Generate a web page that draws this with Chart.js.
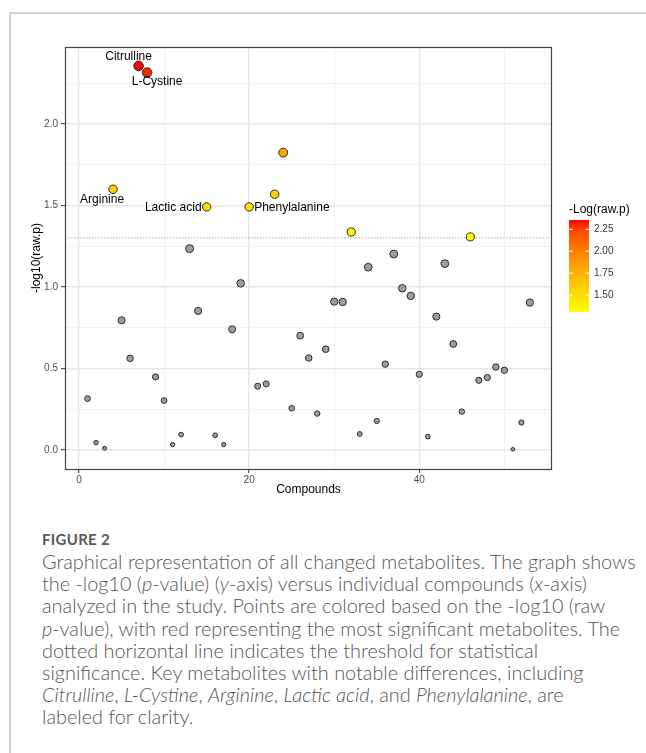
<!DOCTYPE html>
<html>
<head>
<meta charset="utf-8">
<script src="https://cdn.jsdelivr.net/npm/chart.js@4/dist/chart.umd.min.js"></script>
<style>
  html, body { margin: 0; padding: 0; background: #fff; }
  body { width: 646px; height: 753px; position: relative; overflow: hidden; }
  .frame { position: absolute; left: 9px; top: 12px; width: 700px; height: 800px;
           border-top: 2px solid #d2d2d2; border-left: 2px solid #d2d2d2; }
  .plot { position: absolute; left: 0; top: 0; width: 646px; height: 520px; }
  .cap { position: absolute; left: 42px; top: 528px; font-family: Lato, "Open Sans", sans-serif;
         color: #555; font-size: 20px; font-weight: 300; line-height: 22.2px; white-space: nowrap; }
  .cap .fig { font-size: 15px; font-weight: 700; letter-spacing: 0.3px; color: #5a5a5a; line-height: 22px; }
  .cap span.ln { display: inline-block; }
</style>
</head>
<body>
<div class="frame"></div>
<div class="plot"><canvas id="chart"></canvas></div>
<div class="cap" id="cap">
  <div class="fig">FIGURE 2</div>
  <div><span class="ln" id="firstLine">Graphical representation of all changed metabolites. The graph shows</span></div>
  <div>the -log10 (<i>p</i>-value) (<i>y</i>-axis) versus individual compounds (<i>x</i>-axis)</div>
  <div>analyzed in the study. Points are colored based on the -log10 (raw</div>
  <div><i>p</i>-value), with red representing the most significant metabolites. The</div>
  <div>dotted horizontal line indicates the threshold for statistical</div>
  <div>significance. Key metabolites with notable differences, including</div>
  <div><i>Citrulline</i>, <i>L-Cystine</i>, <i>Arginine</i>, <i>Lactic acid</i>, and <i>Phenylalanine</i>, are</div>
  <div>labeled for clarity.</div>
</div>
<script>
// compound index on x, -log10(raw p) on y
const compounds = [1, 2, 3, 4, 5, 6, 7, 8, 9, 10, 11, 12, 13, 14, 15, 16, 17, 18, 19, 20,
  21, 22, 23, 24, 25, 26, 27, 28, 29, 30, 31, 32, 33, 34, 35, 36, 37, 38, 39, 40,
  41, 42, 43, 44, 45, 46, 47, 48, 49, 50, 51, 52, 53];
const logP = [0.315, 0.045, 0.01, 1.599, 0.795, 0.562, 2.356, 2.315, 0.448, 0.303,
  0.033, 0.094, 1.235, 0.853, 1.491, 0.090, 0.033, 0.740, 1.022, 1.491,
  0.391, 0.405, 1.569, 1.824, 0.256, 0.701, 0.564, 0.223, 0.618, 0.910,
  0.908, 1.337, 0.098, 1.121, 0.178, 0.526, 1.202, 0.992, 0.945, 0.464,
  0.082, 0.818, 1.143, 0.650, 0.235, 1.307, 0.427, 0.444, 0.509, 0.489,
  0.004, 0.168, 0.904];
const threshold = 1.301;
const labelNames = ["Citrulline", "L-Cystine", "Arginine", "Lactic acid", "Phenylalanine"];
const labelCompounds = [7, 8, 4, 15, 20];
const xTickLabels = [0, 20, 40];
const yTickLabels = [0, 0.5, 1.0, 1.5, 2.0];
const legendTicks = [1.5, 1.75, 2.0, 2.25];

// label placement relative to its point (px)
const labelStyle = [
  { dx: -10, dy: -9, align: "center" },
  { dx: 10, dy: 9, align: "center" },
  { dx: -11, dy: 10, align: "center" },
  { dx: -5, dy: 1, align: "right" },
  { dx: 5, dy: 1, align: "left" },
];

// shrink/grow caption so the first line is as wide as in the figure
(function fitCaption() {
  const cap = document.getElementById("cap");
  const w = document.getElementById("firstLine").getBoundingClientRect().width;
  cap.style.fontSize = (20 * 594 / w).toFixed(2) + "px";
})();

const FONT = '"Liberation Sans", Arial, sans-serif';
const sig = logP.filter((v) => v >= threshold);
const cMin = Math.min(...sig), cMax = Math.max(...sig);
const vMin = Math.min(...logP), vMax = Math.max(...logP);

// yellow -> red in CIE Lab, like ggplot's gradient
const LAB_LOW = [97.14, -21.55, 94.48];
const LAB_HIGH = [53.24, 80.09, 67.2];
function labToRgb(L, a, b) {
  let y = (L + 16) / 116, x = a / 500 + y, z = y - b / 200;
  const f = (t) => (t ** 3 > 0.008856 ? t ** 3 : (t - 16 / 116) / 7.787);
  x = 0.95047 * f(x); y = 1.0 * f(y); z = 1.08883 * f(z);
  let r = x * 3.2406 + y * -1.5372 + z * -0.4986;
  let g = x * -0.9689 + y * 1.8758 + z * 0.0415;
  let bl = x * 0.0557 + y * -0.204 + z * 1.057;
  const gam = (c) => (c > 0.0031308 ? 1.055 * c ** (1 / 2.4) - 0.055 : 12.92 * c);
  const cl = (c) => Math.round(255 * Math.max(0, Math.min(1, gam(c))));
  return `rgb(${cl(r)}, ${cl(g)}, ${cl(bl)})`;
}
function sigColor(v) {
  const t = Math.max(0, Math.min(1, (v - cMin) / (cMax - cMin)));
  return labToRgb(...LAB_LOW.map((l, k) => l + (LAB_HIGH[k] - l) * t));
}
function pointColor(v) {
  return v >= threshold ? sigColor(v) : "#9e9e9e";
}
function pointRadius(v) {
  const t = (v - vMin) / (vMax - vMin);
  return 1.8 + 3.0 * Math.sqrt(t);
}

const isMajorX = (v) => xTickLabels.some((t) => Math.abs(t - v) < 1e-6);
const isMajorY = (v) => yTickLabels.some((t) => Math.abs(t - v) < 1e-6);

const pts = compounds.map((c, i) => ({ x: c, y: logP[i] }));
const xMin = -1.65, xMax = 55.6, yMin = -0.117, yMax = 2.472;

const framePlugin = {
  id: "frame",
  afterDatasetsDraw(chart) {
    const { ctx, chartArea: a, scales } = chart;
    ctx.save();
    // point labels
    ctx.font = `12px ${FONT}`;
    ctx.fillStyle = "#000";
    ctx.textBaseline = "middle";
    labelNames.forEach((name, i) => {
      const c = labelCompounds[i];
      const v = logP[compounds.indexOf(c)];
      const s = labelStyle[i];
      ctx.textAlign = s.align;
      ctx.fillText(name, scales.x.getPixelForValue(c) + s.dx, scales.y.getPixelForValue(v) + s.dy);
    });
    // panel border
    ctx.strokeStyle = "#444";
    ctx.lineWidth = 1.2;
    ctx.strokeRect(a.left + 0.5, a.top + 0.5, a.right - a.left - 1, a.bottom - a.top);
    // colour bar legend
    const bx = 569, by = 220, bw = 20, bh = 92;
    const grad = ctx.createLinearGradient(0, by + bh, 0, by);
    for (let k = 0; k <= 10; k++) {
      grad.addColorStop(k / 10, sigColor(cMin + (cMax - cMin) * k / 10));
    }
    ctx.fillStyle = grad;
    ctx.fillRect(bx, by, bw, bh);
    ctx.font = `12px ${FONT}`;
    ctx.fillStyle = "#000";
    ctx.textAlign = "left";
    ctx.fillText("-Log(raw.p)", bx, 210);
    ctx.font = `10px ${FONT}`;
    ctx.fillStyle = "#333";
    legendTicks.forEach((t) => {
      const y = by + bh - (t - cMin) / (cMax - cMin) * bh;
      ctx.strokeStyle = "#fff";
      ctx.lineWidth = 1;
      ctx.beginPath();
      ctx.moveTo(bx, y); ctx.lineTo(bx + 4, y);
      ctx.moveTo(bx + bw - 4, y); ctx.lineTo(bx + bw, y);
      ctx.stroke();
      ctx.fillText(t.toFixed(2), bx + 25, y);
    });
    ctx.restore();
  },
};

new Chart(document.getElementById("chart"), {
  type: "scatter",
  data: {
    datasets: [
      {
        data: pts,
        backgroundColor: (c) => pointColor(c.raw ? c.raw.y : 0),
        borderColor: "#2b2b2b",
        borderWidth: 1,
        pointRadius: (c) => pointRadius(c.raw ? c.raw.y : 0),
        pointHoverRadius: (c) => pointRadius(c.raw ? c.raw.y : 0),
      },
      {
        type: "line",
        data: [{ x: xMin, y: threshold }, { x: xMax, y: threshold }],
        borderColor: "#aaa",
        borderWidth: 1,
        borderDash: [1.5, 1.5],
        pointRadius: 0,
      },
    ],
  },
  options: {
    responsive: true,
    maintainAspectRatio: false,
    animation: false,
    layout: { padding: { top: 47, right: 94, left: 0, bottom: 0 } },
    plugins: { legend: { display: false }, tooltip: { enabled: false } },
    scales: {
      x: {
        type: "linear",
        min: xMin,
        max: xMax,
        afterFit: (s) => { s.height = 51; },
        border: { display: false },
        grid: {
          color: (c) => (isMajorX(c.tick.value) ? "#e6e6e6" : "#efefef"),
          lineWidth: (c) => (isMajorX(c.tick.value) ? 1.4 : 0.9),
          tickColor: (c) => (isMajorX(c.tick.value) ? "#333" : "rgba(0,0,0,0)"),
          tickLength: 4,
          tickWidth: 1,
        },
        ticks: {
          stepSize: 10,
          includeBounds: false,
          autoSkip: false,
          maxRotation: 0,
          padding: 1,
          color: "#4d4d4d",
          font: { family: FONT, size: 10 },
          callback: (v) => (isMajorX(v) ? String(v) : ""),
        },
        title: {
          display: true,
          text: "Compounds",
          color: "#000",
          font: { family: FONT, size: 12 },
          padding: { top: 0, bottom: 22.8 },
        },
      },
      y: {
        type: "linear",
        min: yMin,
        max: yMax,
        afterFit: (s) => { s.width = 65; },
        border: { display: false },
        grid: {
          color: (c) => (isMajorY(c.tick.value) ? "#e6e6e6" : "#efefef"),
          lineWidth: (c) => (isMajorY(c.tick.value) ? 1.4 : 0.9),
          tickColor: (c) => (isMajorY(c.tick.value) ? "#333" : "rgba(0,0,0,0)"),
          tickLength: 4,
          tickWidth: 1,
        },
        ticks: {
          stepSize: 0.25,
          includeBounds: false,
          autoSkip: false,
          padding: 3,
          color: "#4d4d4d",
          font: { family: FONT, size: 10 },
          callback: (v) => (isMajorY(v) ? v.toFixed(1) : ""),
        },
        title: {
          display: true,
          text: "-log10(raw.p)",
          color: "#000",
          font: { family: FONT, size: 12 },
          padding: { top: 29.8, bottom: 0 },
        },
      },
    },
  },
  plugins: [framePlugin],
});
</script>
</body>
</html>
